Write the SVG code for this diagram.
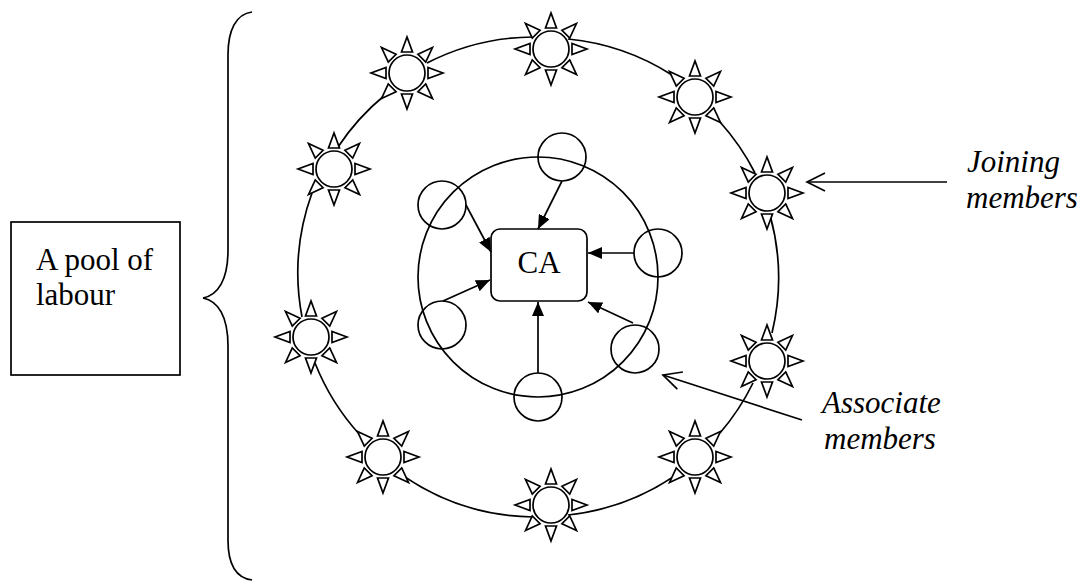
<svg xmlns="http://www.w3.org/2000/svg" xmlns:xlink="http://www.w3.org/1999/xlink" width="1088" height="588" viewBox="0 0 1088 588">
<style>
.ln{fill:none;stroke:#000;stroke-width:1.7}
.sh{fill:#fff;stroke:#000;stroke-width:1.7}
text{font-size:31px;fill:#000}
</style>
<defs>
<marker id="fa" viewBox="0 0 14 12" refX="14" refY="6" markerWidth="14" markerHeight="12" markerUnits="userSpaceOnUse" orient="auto">
<path d="M0,0 L14,6 L0,12 z" fill="#000"/>
</marker>
<marker id="oa" viewBox="-18 -9 20 18" refX="0" refY="0" markerWidth="20" markerHeight="18" markerUnits="userSpaceOnUse" orient="auto" overflow="visible">
<path d="M-18,-9 L0,0 L-18,9" fill="none" stroke="#000" stroke-width="1.7"/>
</marker>
<g id="sun">
<g id="ray"><polygon class="sh" points="0,-36 -5.5,-21 5.5,-21"/></g>
<use xlink:href="#ray" transform="rotate(45)"/>
<use xlink:href="#ray" transform="rotate(90)"/>
<use xlink:href="#ray" transform="rotate(135)"/>
<use xlink:href="#ray" transform="rotate(180)"/>
<use xlink:href="#ray" transform="rotate(225)"/>
<use xlink:href="#ray" transform="rotate(270)"/>
<use xlink:href="#ray" transform="rotate(315)"/>
<circle class="sh" r="18"/>
</g>
</defs>
<rect width="1088" height="588" fill="#fff"/>

<g id="connectors">
<path class="ln" d="M568,39 A235,235 0 0 1 672,75"/>
<path class="ln" d="M720,122 A235,235 0 0 1 755,173"/>
<path class="ln" d="M770,215 A235,235 0 0 1 772,333"/>
<path class="ln" d="M753,383 A235,235 0 0 1 720,433"/>
<path class="ln" d="M673,477 A235,235 0 0 1 568,515"/>
<path class="ln" d="M533,517 A235,235 0 0 1 405,477"/>
<path class="ln" d="M360,435 A235,235 0 0 1 315,363"/>
<path class="ln" d="M302,317 A235,235 0 0 1 312,193"/>
<path class="ln" d="M338,147 A235,235 0 0 1 385,95"/>
<path class="ln" d="M427,63 A235,235 0 0 1 533,37"/>
<line class="ln" x1="562" y1="181" x2="538" y2="229" marker-end="url(#fa)"/>
<line class="ln" x1="466" y1="205" x2="491" y2="252" marker-end="url(#fa)"/>
<line class="ln" x1="634" y1="253" x2="588" y2="253" marker-end="url(#fa)"/>
<line class="ln" x1="443" y1="301" x2="490" y2="280" marker-end="url(#fa)"/>
<line class="ln" x1="633" y1="323" x2="588" y2="302" marker-end="url(#fa)"/>
<line class="ln" x1="538" y1="373" x2="538" y2="302" marker-end="url(#fa)"/>
<line class="ln" x1="947" y1="182" x2="807" y2="182" marker-end="url(#oa)"/>
<line class="ln" x1="802" y1="420" x2="663" y2="375" marker-end="url(#oa)"/>
</g>

<g id="brace">
<path class="ln" d="M252,12 C236,14 228,30 228,55 L228,250 C228,280 218,295 203,298 C218,301 228,316 228,346 L228,540 C228,565 236,578 252,580"/>
</g>

<g id="pool" font-family="'Liberation Serif', 'Times New Roman', 'DejaVu Serif', serif">
<rect class="ln" x="11" y="222" width="169" height="153"/>
<text x="36" y="270">A pool of</text>
<text x="36" y="305">labour</text>
</g>

<g id="ring">
<circle class="ln" cx="538" cy="277" r="120"/>
</g>

<g id="ca" font-family="'Liberation Serif', 'Times New Roman', 'DejaVu Serif', serif">
<rect class="ln" x="491" y="229" width="96" height="72" rx="9"/>
<text x="539" y="273" text-anchor="middle">CA</text>
</g>

<g id="assoc1"><circle class="ln" cx="562" cy="157" r="24"/></g>
<g id="assoc2"><circle class="ln" cx="442" cy="205" r="24"/></g>
<g id="assoc3"><circle class="ln" cx="658" cy="253" r="24"/></g>
<g id="assoc4"><circle class="ln" cx="442" cy="325" r="24"/></g>
<g id="assoc5"><circle class="ln" cx="635" cy="349" r="24"/></g>
<g id="assoc6"><circle class="ln" cx="538" cy="397" r="24"/></g>

<g id="sun1"><use xlink:href="#sun" x="551" y="49"/></g>
<g id="sun2"><use xlink:href="#sun" x="695" y="97"/></g>
<g id="sun3"><use xlink:href="#sun" x="767" y="193"/></g>
<g id="sun4"><use xlink:href="#sun" x="767" y="361"/></g>
<g id="sun5"><use xlink:href="#sun" x="695" y="457"/></g>
<g id="sun6"><use xlink:href="#sun" x="551" y="505"/></g>
<g id="sun7"><use xlink:href="#sun" x="383" y="457"/></g>
<g id="sun8"><use xlink:href="#sun" x="311" y="337"/></g>
<g id="sun9"><use xlink:href="#sun" x="334" y="169"/></g>
<g id="sun10"><use xlink:href="#sun" x="407" y="73"/></g>

<g id="joining" font-family="'Liberation Serif', 'Times New Roman', 'DejaVu Serif', serif" font-style="italic">
<text x="967" y="172">Joining</text>
<text x="966" y="208">members</text>
</g>
<g id="associate" font-family="'Liberation Serif', 'Times New Roman', 'DejaVu Serif', serif" font-style="italic">
<text x="822" y="413">Associate</text>
<text x="824" y="449">members</text>
</g>
</svg>
